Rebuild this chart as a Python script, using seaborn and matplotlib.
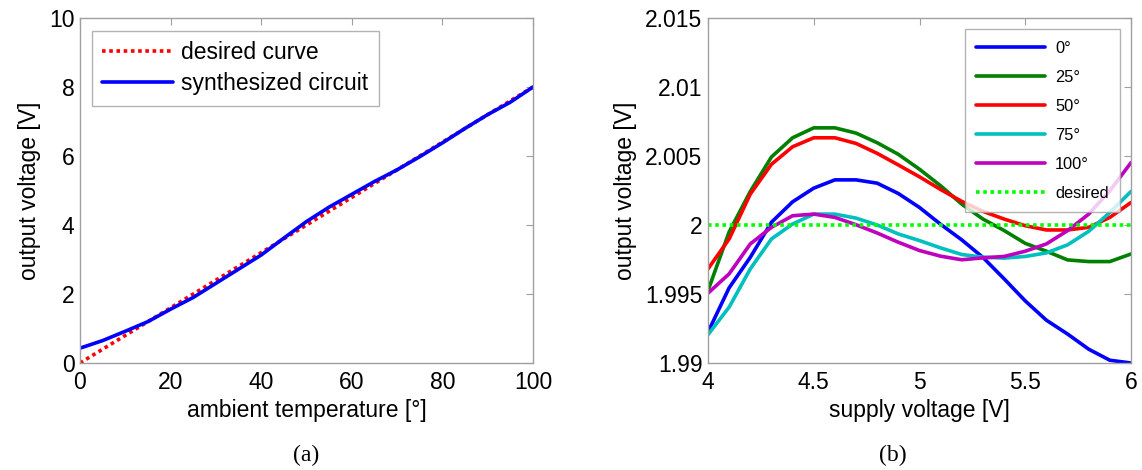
import numpy as np
import pandas as pd
import matplotlib
matplotlib.use('Agg')
import matplotlib.pyplot as plt
import seaborn as sns

# (a) output vs ambient temperature
temp = [0, 5, 10, 15, 20, 25, 30, 35, 40, 45, 50, 55, 60, 65, 70, 75, 80, 85, 90, 95, 100]
synth = [0.43, 0.65, 0.92, 1.2, 1.56, 1.9, 2.31, 2.72, 3.13, 3.62, 4.1, 4.52,
         4.89, 5.26, 5.6, 5.98, 6.38, 6.8, 7.2, 7.56, 8.0]
desired_temp = [0, 100]
desired_out = [0, 8]

# (b) output vs supply voltage at several temperatures
supply = [4.0, 4.1, 4.2, 4.3, 4.4, 4.5, 4.6, 4.7, 4.8, 4.9, 5.0,
          5.1, 5.2, 5.3, 5.4, 5.5, 5.6, 5.7, 5.8, 5.9, 6.0]
v_0 = [1.99224, 1.99545, 1.99766, 2.0002, 2.00168, 2.00267, 2.00327, 2.00327, 2.00303, 2.00228, 2.00127,
       2.00005, 1.99892, 1.99765, 1.9961, 1.9945, 1.9931, 1.9921, 1.9910, 1.9902, 1.9900]
v_25 = [1.99525, 1.99950, 2.00243, 2.00493, 2.00632, 2.00704, 2.00704, 2.00666, 2.00596, 2.00512, 2.00404,
        2.00284, 2.00151, 2.00043, 1.99960, 1.99867, 1.99810, 1.99747, 1.99735, 1.99735, 1.99790]
v_50 = [1.99682, 1.99899, 2.00224, 2.00440, 2.00567, 2.00632, 2.00632, 2.00591, 2.00519, 2.00435, 2.00349,
        2.00257, 2.00171, 2.00099, 2.00043, 1.99995, 1.99964, 1.99964, 1.99983, 2.00055, 2.00163]
v_75 = [1.99205, 1.99405, 1.99682, 1.99899, 2.00007, 2.00079, 2.00079, 2.00050, 2.00000, 1.99935, 1.99887,
        1.99834, 1.99786, 1.99767, 1.99760, 1.99772, 1.99798, 1.99856, 1.99954, 2.00091, 2.00243]
v_100 = [1.99506, 1.99646, 1.99863, 1.99983, 2.00067, 2.00079, 2.00055, 2.00002, 1.99942, 1.99875, 1.99815,
         1.99774, 1.99748, 1.99762, 1.99772, 1.99810, 1.99863, 1.99959, 2.00079, 2.00248, 2.00452]
desired_supply = [4.0, 6.0]
desired_v = [2.0, 2.0]
series_labels = ['0°', '25°', '50°', '75°', '100°']
series_colors = ['#0000ff', '#008000', '#ff0000', '#00bfbf', '#bf00bf']

sns.set_style('white')
plt.rcParams['font.family'] = ['Liberation Sans', 'DejaVu Sans']
plt.rcParams['xtick.direction'] = 'in'
plt.rcParams['ytick.direction'] = 'in'
plt.rcParams['text.color'] = 'black'
plt.rcParams['axes.labelcolor'] = 'black'
plt.rcParams['xtick.labelcolor'] = 'black'
plt.rcParams['ytick.labelcolor'] = 'black'

fig = plt.figure(figsize=(11.42, 4.70), dpi=100)
ax1 = fig.add_axes([80 / 1142, 107 / 470, 453 / 1142, 345 / 470])
ax2 = fig.add_axes([708 / 1142, 107 / 470, 423 / 1142, 345 / 470])

fs = 16.5
edge = '#a0a0a0'

# panel (a)
sns.lineplot(x=desired_temp, y=desired_out, ax=ax1, color='#ff0000', lw=2.6,
             linestyle=(0, (1, 1)), label='desired curve')
sns.lineplot(x=temp, y=synth, ax=ax1, color='#0000ff', lw=2.6, label='synthesized circuit')
ax1.set_xlim(0, 100)
ax1.set_ylim(0, 10)
ax1.set_xticks([0, 20, 40, 60, 80, 100])
ax1.set_yticks([0, 2, 4, 6, 8, 10])
ax1.set_xlabel('ambient temperature [°]', fontsize=fs, labelpad=3)
ax1.set_ylabel('output voltage [V]', fontsize=fs, labelpad=6)
ax1.legend(loc='upper left', bbox_to_anchor=(0.026, 0.962), borderaxespad=0, fontsize=fs,
           frameon=True, fancybox=False, edgecolor=edge, handlelength=3.1, borderpad=0.45,
           labelspacing=0.35, handletextpad=0.35)

# panel (b)
v_series = [v_0, v_25, v_50, v_75, v_100]
for vals, lab, col in zip(v_series, series_labels, series_colors):
    sns.lineplot(x=supply, y=vals, ax=ax2, color=col, lw=2.6, label=lab)
sns.lineplot(x=desired_supply, y=desired_v, ax=ax2, color='#00ff00', lw=2.6,
             linestyle=(0, (1, 1)), label='desired')
ax2.set_xlim(4, 6)
ax2.set_ylim(1.99, 2.015)
ax2.set_xticks([4, 4.5, 5, 5.5, 6])
ax2.set_xticklabels(['4', '4.5', '5', '5.5', '6'])
ax2.set_yticks([1.99, 1.995, 2.0, 2.005, 2.01, 2.015])
ax2.set_yticklabels(['1.99', '1.995', '2', '2.005', '2.01', '2.015'])
ax2.set_xlabel('supply voltage [V]', fontsize=fs, labelpad=3)
ax2.set_ylabel('output voltage [V]', fontsize=fs, labelpad=6)
ax2.legend(loc='upper right', bbox_to_anchor=(0.974, 0.968), borderaxespad=0, fontsize=11.8,
           frameon=True, fancybox=False, edgecolor=edge, handlelength=4.2, borderpad=0.7,
           labelspacing=0.86, handletextpad=0.6)

for ax in (ax1, ax2):
    for sp in ax.spines.values():
        sp.set_color(edge)
        sp.set_linewidth(1.0)
    ax.tick_params(axis='both', which='both', labelsize=fs, length=5, width=0.8,
                   color=edge, top=True, right=True, pad=6)
    ax.tick_params(axis='y', pad=4)
    ax.get_legend().get_frame().set_linewidth(1.0)

fig.text(306 / 1142, 1 - 455 / 470, '(a)', ha='center', va='center', fontsize=17,
         family=['Liberation Serif', 'DejaVu Serif'])
fig.text(893 / 1142, 1 - 455 / 470, '(b)', ha='center', va='center', fontsize=17,
         family=['Liberation Serif', 'DejaVu Serif'])

fig.savefig('out.png', dpi=100)
